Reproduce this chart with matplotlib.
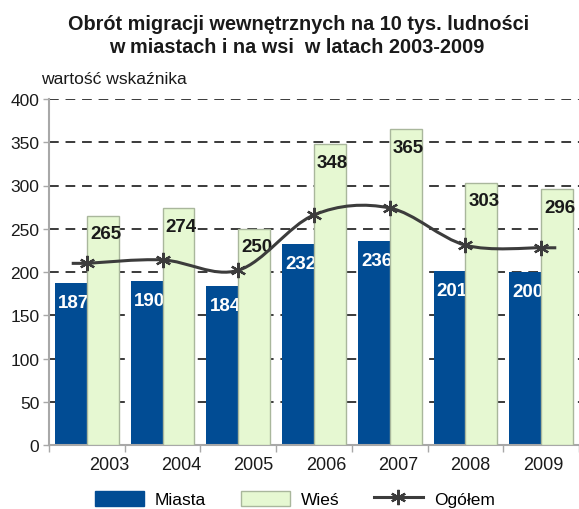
import numpy as np
import matplotlib
matplotlib.use("Agg")
import matplotlib.pyplot as plt
from matplotlib.path import Path
from matplotlib.patches import PathPatch, Patch
from matplotlib.lines import Line2D
from matplotlib.transforms import blended_transform_factory

years = ["2003", "2004", "2005", "2006", "2007", "2008", "2009"]
miasta = [187, 190, 184, 232, 236, 201, 200]
wies = [265, 274, 250, 348, 365, 303, 296]
ogolem = [210, 214, 202, 266, 274, 231, 228]

plt.rcParams['font.family'] = ['Liberation Sans', 'DejaVu Sans']

C_MIASTA = '#014C94'
C_WIES = '#E6F8D2'
C_WIES_EDGE = '#A9B79C'
C_LINE = '#3C3C3C'
C_GRID = '#3A3A3A'
C_AXIS = '#A8A8A8'
C_TEXT = '#1a1a1a'

fig = plt.figure(figsize=(5.79, 5.10), dpi=100)
ax = fig.add_axes([49 / 579, 1 - 446 / 510, 1 - 49 / 579, (446 - 100) / 510])

x = np.arange(len(years))
bw = 0.42
ax.bar(x - bw / 2, miasta, width=bw, color=C_MIASTA, zorder=2)
ax.bar(x + bw / 2, wies, width=bw, color=C_WIES, edgecolor=C_WIES_EDGE,
       linewidth=1.0, zorder=4)

for xi, v in zip(x, miasta):
    ax.annotate(str(v), (xi - bw / 2, v), xytext=(2, -14), textcoords='offset points',
                ha='center', va='center', color='white', fontsize=13.5,
                fontweight='bold', zorder=3)
for xi, v in zip(x, wies):
    ax.annotate(str(v), (xi + bw / 2, v), xytext=(2, -13), textcoords='offset points',
                ha='center', va='center', color=C_TEXT, fontsize=13.5,
                fontweight='bold', zorder=5)

# smoothed line (Catmull-Rom -> cubic Bezier)
px = x.astype(float)
py = np.array(ogolem, dtype=float)
ext = 0.2
verts = [(px[0] - ext, py[0]), (px[0], py[0])]
codes = [Path.MOVETO, Path.LINETO]
n = len(px)
for i in range(n - 1):
    p0 = np.array([px[max(i - 1, 0)], py[max(i - 1, 0)]])
    p1 = np.array([px[i], py[i]])
    p2 = np.array([px[i + 1], py[i + 1]])
    p3 = np.array([px[min(i + 2, n - 1)], py[min(i + 2, n - 1)]])
    if i == 0:
        p0 = p1.copy()
    if i == n - 2:
        p3 = p2.copy()
    c1 = p1 + (p2 - p0) / 6
    c2 = p2 - (p3 - p1) / 6
    verts += [tuple(c1), tuple(c2), tuple(p2)]
    codes += [Path.CURVE4] * 3
verts.append((px[-1] + ext, py[-1]))
codes.append(Path.LINETO)
ax.add_patch(PathPatch(Path(verts, codes), facecolor='none', edgecolor=C_LINE,
                       linewidth=2.2, zorder=6, capstyle='butt'))
ax.plot(px, py, linestyle='none', marker=(6, 2, 0), markersize=11,
        markeredgewidth=1.6, color=C_LINE, zorder=7)

ax.set_xlim(-0.5, len(years) - 0.5)
ax.set_ylim(0, 400)
ax.set_yticks(np.arange(0, 401, 50))
ax.yaxis.grid(True, color=C_GRID, linestyle=(0, (5, 3.5)), linewidth=1.4)
ax.set_axisbelow(True)

ax.set_xticks(np.arange(-0.5, len(years), 1.0))
ax.set_xticklabels([])
ax.tick_params(axis='x', which='major', length=5, color=C_AXIS, width=1)
trans = blended_transform_factory(ax.transData, ax.transAxes)
for xi, lab in zip(x, years):
    ax.text(0.29 + xi * 0.956, -0.055, lab, transform=trans, ha='center', va='center',
            fontsize=13, color=C_TEXT)

ax.tick_params(axis='y', length=4, color=C_AXIS, width=1, labelsize=12.5,
               labelcolor=C_TEXT, pad=3)

for s in ['top', 'right']:
    ax.spines[s].set_visible(False)
for s in ['left', 'bottom']:
    ax.spines[s].set_color(C_AXIS)
    ax.spines[s].set_linewidth(1.5)

fig.text(0.516, 1 - 30 / 510, "Obrót migracji wewnętrznych na 10 tys. ludności",
         ha='center', va='baseline', fontsize=14.3, fontweight='bold', color=C_TEXT)
fig.text(0.512, 1 - 53 / 510, "w miastach i na wsi  w latach 2003-2009",
         ha='center', va='baseline', fontsize=14.3, fontweight='bold', color=C_TEXT)
fig.text(41 / 579, 1 - 84 / 510, "wartość wskaźnika", ha='left', va='baseline',
         fontsize=12.6, color=C_TEXT)

handles = [
    Patch(facecolor=C_MIASTA, edgecolor=C_MIASTA),
    Patch(facecolor=C_WIES, edgecolor=C_WIES_EDGE),
    Line2D([0], [0], color=C_LINE, linewidth=2.2, marker=(6, 2, 0),
           markersize=11, markeredgewidth=1.6),
]
fig.legend(handles, ["Miasta", "Wieś", "Ogółem"], loc='center',
           bbox_to_anchor=(295 / 579, 1 - 500 / 510), ncol=3, frameon=False,
           fontsize=12.5, handlelength=2.8, handleheight=1.0,
           handletextpad=0.65, columnspacing=2.0, borderpad=0.2)

fig.savefig("out.png", dpi=100)
